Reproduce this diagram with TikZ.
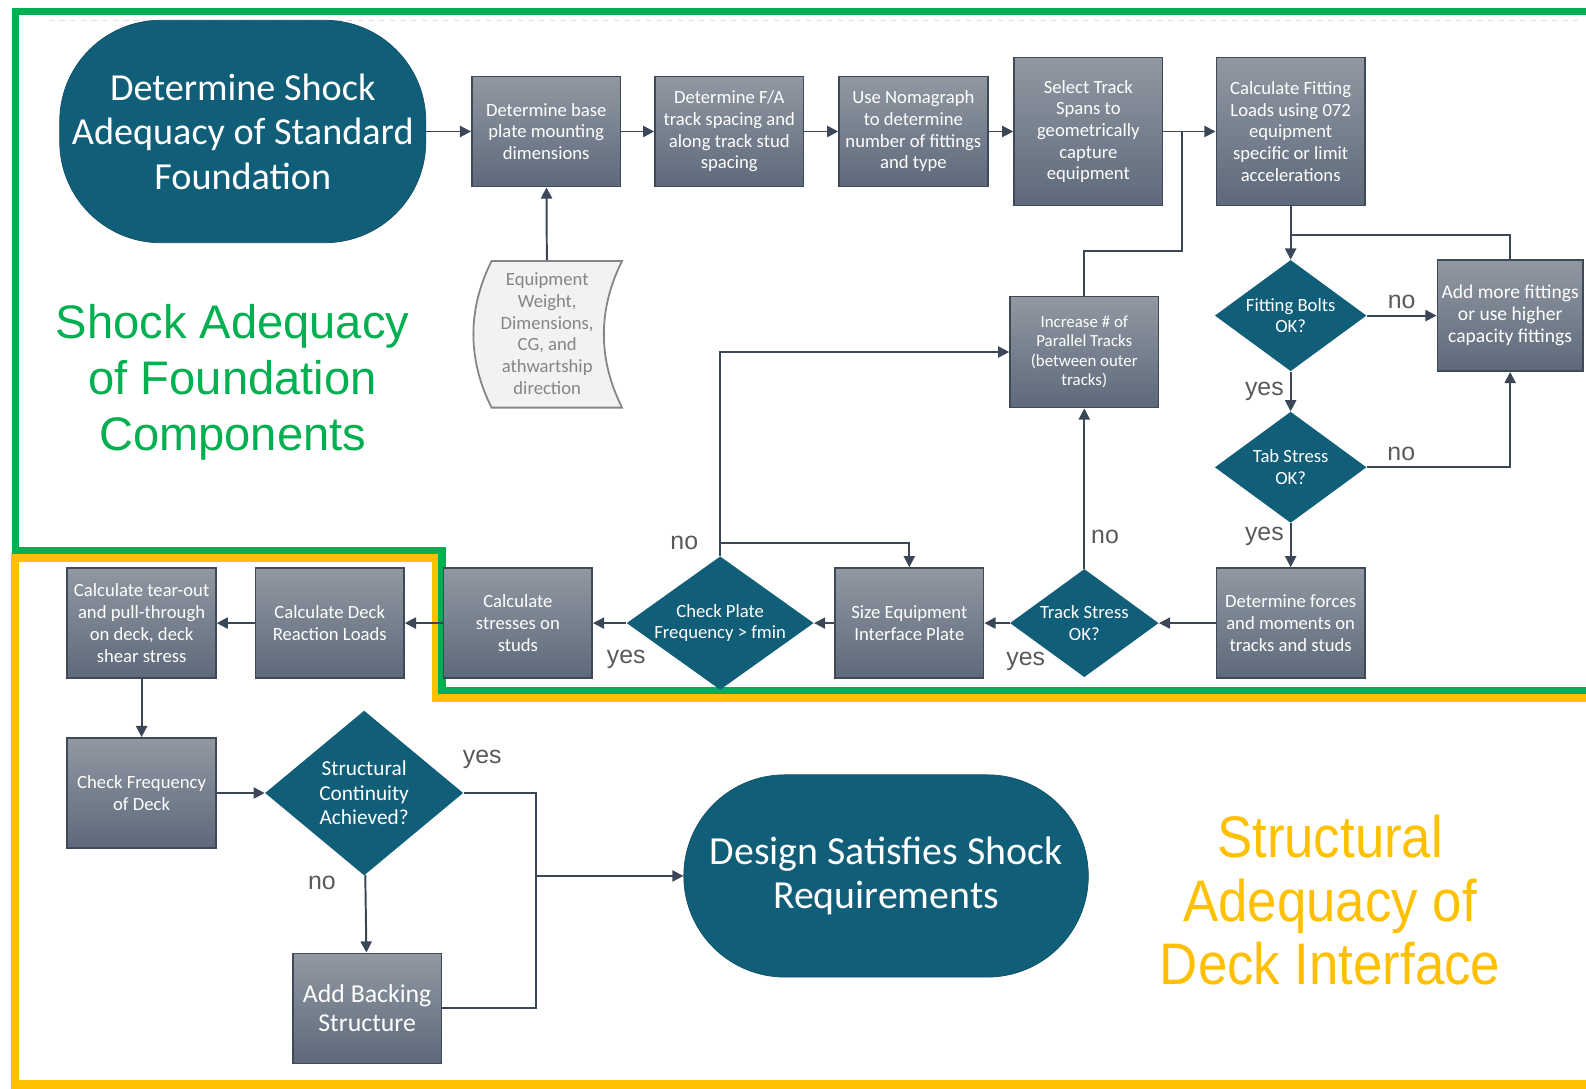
\documentclass[tikz,border=0pt]{standalone}
\usepackage{fontspec}
\setmainfont{Carlito}
\newfontfamily\labelfont{Liberation Sans}
\newfontfamily\narrowfont[FakeStretch=0.9]{Liberation Sans}
\usepackage{tikz}
\usetikzlibrary{shapes.geometric, arrows, arrows.meta}
\usetikzlibrary{positioning,calc}
\definecolor{shockteal}{HTML}{115E78}
\definecolor{boxtop}{HTML}{9198A2}
\definecolor{boxbottom}{HTML}{5D697A}
\definecolor{boxedge}{HTML}{3F4A59}
\definecolor{linecol}{HTML}{3B4757}
\definecolor{answercol}{HTML}{595959}
\definecolor{docgray}{HTML}{858585}
\definecolor{frgreen}{HTML}{00B050}
\definecolor{fryellow}{HTML}{FFC000}
\tikzstyle{process} = [rectangle, draw=boxedge, line width=0.9pt, top color=boxtop, bottom color=boxbottom, text=white, minimum width=2.94cm, minimum height=2.18cm, align=center, inner sep=1pt, font=\fontsize{10.5}{12.2}\selectfont]
\tikzstyle{decision} = [diamond, fill=shockteal, minimum width=3cm, minimum height=2.2cm, inner sep=0pt]
\tikzstyle{dectext} = [text=white, align=center, font=\fontsize{10.5}{12.2}\selectfont]
\tikzstyle{terminal} = [rectangle, rounded corners=2cm, fill=shockteal, draw=shockteal!85!black, text=white, align=center, font=\fontsize{21.5}{25}\selectfont]
\tikzstyle{arrow} = [line width=1.1pt, draw=linecol, ->, >={Triangle[length=0.22cm, width=0.22cm]}]
\tikzstyle{line} = [line width=1.1pt, draw=linecol]
\tikzstyle{answer} = [text=answercol, font=\labelfont\fontsize{14}{16}\selectfont]

\begin{document}
\begin{tikzpicture}[x=0.02cm, y=-0.02cm]
\useasboundingbox (0,0) rectangle (1568,1076);

% section frames
\draw[gray!25, dashed, thin] (48,20) -- (1560,20);
\draw[fryellow, line width=0.17cm] (1568,690) -- (431,690) -- (431,551) -- (15,551) -- (15,1072) -- (1568,1072);
\draw[frgreen, line width=0.14cm] (1568,11) -- (15,11) -- (15,544) -- (437,544) -- (437,683) -- (1568,683);

\node[text=frgreen, align=center, font=\labelfont\fontsize{26.5}{31.5}\selectfont] (foundation) at (230,378) {Shock Adequacy\\of Foundation\\Components};
\node[text=fryellow, align=center, font=\narrowfont\fontsize{33}{35.9}\selectfont] (deck) at (1315,890) {Structural\\Adequacy of\\Deck Interface};

% top row
\node[terminal, minimum width=7.24cm, minimum height=4.4cm] (start) at (240,130) {Determine Shock\\Adequacy of Standard\\Foundation};
\node[process] (base) at (540,130) {Determine base\\plate mounting\\dimensions};
\node[process] (spacing) at (721,130) {Determine F/A\\track spacing and\\along track stud\\spacing};
\node[process] (noma) at (903,130) {Use Nomagraph\\to determine\\number of fittings\\and type};
\node[process, minimum height=2.92cm] (spans) at (1076,130) {Select Track\\Spans to\\geometrically\\capture\\equipment};
\node[process, minimum height=2.92cm] (loads) at (1276,130) {Calculate Fitting\\Loads using 072\\equipment\\specific or limit\\accelerations};

% equipment data
\draw[draw=docgray, fill=gray!10, line width=1pt] (486,258) -- (615,258) .. controls (591,306) and (591,355) .. (615,403) -- (486,403) .. controls (462,355) and (462,306) .. (486,258) -- cycle;
\node[text=docgray, minimum height=2.9cm, align=center, font=\fontsize{10.5}{12.2}\selectfont] (data) at (541,330) {Equipment\\Weight,\\Dimensions,\\CG, and\\athwartship\\direction};

\node[process, minimum height=2.2cm, font=\fontsize{9.5}{11}\selectfont] (incr) at (1072,348) {Increase \# of\\Parallel Tracks\\(between outer\\tracks)};
\node[process, minimum width=2.88cm, minimum height=2.2cm, font=\fontsize{11}{12.5}\selectfont] (more) at (1493,312) {Add more fittings\\or use higher\\capacity fittings};
\node[decision, label={[dectext]center:Fitting Bolts\\OK?}] (bolts) at (1276,312) {};
\node[decision, label={[dectext]center:Tab Stress\\OK?}] (tab) at (1276,462) {};

% middle row
\node[process] (forces) at (1276,616) {Determine forces\\and moments on\\tracks and studs};
\node[decision, minimum width=2.94cm, minimum height=2.14cm, label={[dectext]center:Track Stress\\OK?}] (trackok) at (1072,616) {};
\node[process] (plate) at (899,616) {Size Equipment\\Interface Plate};
\node[decision, minimum width=3.7cm, minimum height=2.64cm, label={[dectext]center:Check Plate\\Frequency > fmin}] (freq) at (712,616) {};
\node[process] (studs) at (512,616) {Calculate\\stresses on\\studs};
\node[process] (react) at (326,616) {Calculate Deck\\Reaction Loads};
\node[process] (tear) at (140,616) {Calculate tear-out\\and pull-through\\on deck, deck\\shear stress};

% deck checks
\node[process] (deckfreq) at (140,784) {Check Frequency\\of Deck};
\node[decision, minimum width=3.92cm, minimum height=3.26cm, label={[dectext, font=\fontsize{12}{13.8}\selectfont]center:Structural\\Continuity\\Achieved?}] (cont) at (360,784) {};
\node[process, font=\fontsize{14.5}{16.5}\selectfont] (backing) at (363,997) {Add Backing\\Structure};
\node[terminal, minimum width=8cm, minimum height=4cm, font=\fontsize{22.4}{25}\selectfont] (done) at (876,866) {Design Satisfies Shock\\Requirements};

\coordinate (j1) at ($(spans.east)!0.35!(loads.west)$);
\coordinate (j2) at (1276,232);
\coordinate (j3) at (712,537);
\coordinate (j4) at (530,866);

\draw[arrow] (start) -- (base);
\draw[arrow] (base) -- (spacing);
\draw[arrow] (spacing) -- (noma);
\draw[arrow] (noma) -- (spans);
\draw[arrow] (spans) -- (loads);
\draw[arrow] (data) -- (base);
\draw[line] (incr.north) |- ($(j1)+(0,118)$) -- (j1);

\draw[line] (more.north) |- (j2);
\draw[arrow] (loads) -- (bolts);
\draw[arrow] (bolts) -- node[answer, above]{no} (more);
\draw[arrow] (bolts) -- node[answer, left]{yes} (tab);
\draw[arrow] (tab.east) -| node[answer, above, pos=0.12]{no} (more.south);
\draw[arrow] (tab) -- node[answer, left, pos=0.3]{yes} (forces);

\draw[arrow] (forces) -- (trackok);
\draw[arrow] (trackok) -- node[answer, pos=0, anchor=north west, xshift=-0.2cm, yshift=-0.44cm]{yes} (plate);
\draw[arrow] (trackok) -- node[answer, right, pos=0.2]{no} (incr);
\draw[arrow] (plate) -- (freq);
\draw[arrow] (freq) -- node[answer, pos=0, below=0.4cm]{yes} (studs);
\draw[line] (freq.north) -- node[answer, pos=1, left=0.3cm]{no} (j3);
\draw[arrow] (j3) |- (incr.west);
\draw[arrow] (j3) -| (plate.north);

\draw[arrow] (studs) -- (react);
\draw[arrow] (react) -- (tear);
\draw[arrow] (tear) -- (deckfreq);
\draw[arrow] (deckfreq) -- (cont);
\draw[line] (cont.east) -| node[answer, pos=0, anchor=south west, xshift=-0.15cm, yshift=0.35cm]{yes} (j4);
\draw[arrow] (cont) -- node[answer, pos=0.1, left=0.45cm]{no} (backing);
\draw[line] (backing.east) -| (j4);
\draw[arrow] (j4) -- (done.west);
\end{tikzpicture}
\end{document}
